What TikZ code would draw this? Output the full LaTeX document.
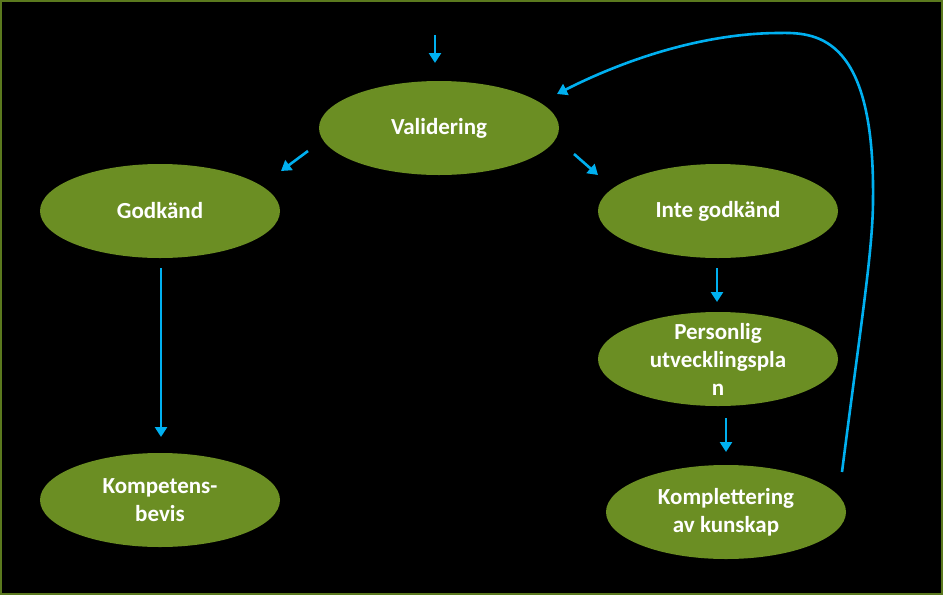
\documentclass[tikz,border=0pt]{standalone}
\usepackage{fontspec}
\setmainfont{Carlito}
\usetikzlibrary{shapes.geometric,arrows.meta,calc}
\definecolor{leaf}{RGB}{107,142,35}
\definecolor{flow}{RGB}{0,176,240}
\tikzset{
  ell/.style={ellipse, fill=leaf, draw=none, minimum width=240pt, minimum height=94pt,
    inner xsep=0pt, inner ysep=-12pt, text=white, align=center,
    font=\bfseries\fontsize{23}{28}\selectfont},
  flowarrow/.style={draw=flow, line width=2.6pt, -{Triangle[width=12pt,length=10pt]}}
}
\begin{document}
\begin{tikzpicture}[x=1pt,y=-1pt]
\fill[black] (0,0) rectangle (943,595);
\useasboundingbox (0,0) rectangle (943,595);
\draw[leaf!85!black, line width=2pt] (1,1) rectangle (942,594);

\node[ell] (val) at (439,128) {Validering};
\node[ell] (god) at (160,211) {Godkänd};
\node[ell] (inte) at (718,211) {Inte godkänd};
\node[ell] (pers) at (718,359) {Personlig\\utvecklingspla\\n};
\node[ell] (kompb) at (160,500) {Kompetens-\\bevis};
\node[ell] (kompl) at (726,512) {Komplettering\\av kunskap};

\coordinate (in) at (435,35);

\draw[flowarrow] (in) -- ($(val.center)+(-4,-65)$);
\draw[flowarrow] ($(val.center)+(-131,23)$) -- ($(god.center)+(121,-40)$);
\draw[flowarrow] ($(val.center)+(135,26)$) -- ($(inte.center)+(-120,-36)$);
\draw[flowarrow] ($(god.center)+(1,57)$) -- ($(kompb.center)+(1,-63)$);
\draw[flowarrow] ($(inte.center)+(-1,57)$) -- ($(pers.center)+(-1,-57)$);
\draw[flowarrow] ($(pers.center)+(8,59)$) -- ($(kompl.center)+(0,-60)$);
\draw[flowarrow] ($(kompl.center)+(116,-40)$)
   .. controls (860,330) and (873,250) .. (873,200)
   .. controls (875,40) and (820,32) .. (780,33)
   .. controls (700,33) and (620,62) .. ($(val.center)+(118,-34)$);
\end{tikzpicture}
\end{document}
